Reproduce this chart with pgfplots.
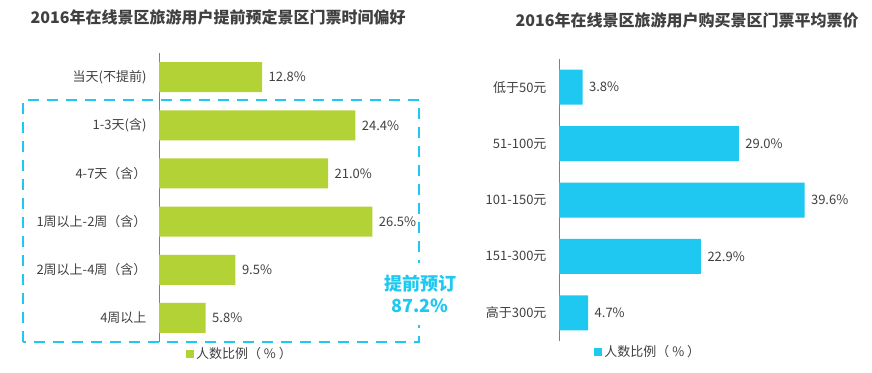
\documentclass[border=0pt]{standalone}
\usepackage{fontspec}
\setmainfont{Noto Sans CJK SC}
\usepackage{pgfplots}
\pgfplotsset{compat=1.18}
\definecolor{barg}{RGB}{178,210,53}
\definecolor{barc}{RGB}{31,200,240}
\definecolor{txt}{RGB}{64,64,64}
\definecolor{axgray}{RGB}{128,128,128}
\pgfplotsset{mybar/.style={
  xbar, scale only axis, clip=false,
  axis x line=none, axis y line*=left,
  y axis line style={-, draw=axgray, line width=0.9pt},
  xmin=0, y dir=reverse, enlarge y limits=false,
  major tick length=0pt, tick style={draw=none},
  yticklabel style={font=\fontsize{13}{15}\selectfont, text=txt, xshift=-9pt},
  nodes near coords={\pgfmathprintnumber[fixed,fixed zerofill,precision=1]{\pgfplotspointmeta}\%},
  nodes near coords style={font=\fontsize{13}{15}\selectfont, text=txt, xshift=3pt},
  /pgf/number format/assume math mode=true,
  legend style={draw=none, fill=none, font=\fontsize{13}{15}\selectfont, text=txt, inner sep=0pt},
  legend image code/.code={\fill[##1, draw=none] (0pt,-4pt) rectangle (8pt,4pt);},
}}
\begin{document}
\begin{tikzpicture}
\path[use as bounding box] (0pt,0pt) rectangle (872pt,372pt);
% titles
\node[anchor=west, font=\bfseries\fontsize{16}{18}\selectfont, text=txt] at (27pt,355pt) {2016年在线景区旅游用户提前预定景区门票时间偏好};
\node[anchor=west, font=\bfseries\fontsize{16}{18}\selectfont, text=txt] at (512pt,352pt) {2016年在线景区旅游用户购买景区门票平均票价};
% left chart
\begin{axis}[mybar, at={(159pt,30pt)}, anchor=south west, width=241.5pt, height=289pt,
  xmax=30, ymin=-0.5, ymax=5.5, bar width=30pt,
  ytick={0,1,2,3,4,5},
  yticklabels={当天(不提前),1-3天(含),4-7天（含）,1周以上-2周（含）,2周以上-4周（含）,4周以上},
  legend style={at={(0.335,0)}, anchor=center, yshift=-12pt}]
\addplot[fill=barg, draw=none] coordinates {(12.8,0) (24.4,1) (21.0,2) (26.5,3) (9.5,4) (5.8,5)};
\addlegendentry{人数比例（ \% ）}
\end{axis}
% dashed box
\draw[barc, line width=2.6pt, dash pattern=on 11pt off 8pt] (23pt,30pt) rectangle (419pt,272pt);
\node[fill=white, inner sep=0pt, minimum height=61pt, minimum width=78pt, align=center, text=barc, font=\bfseries\fontsize{18}{22}\selectfont] at (420pt,78pt) {提前预订\\87.2\%};
% right chart
\begin{axis}[mybar, at={(559pt,31pt)}, anchor=south west, width=279pt, height=282pt,
  xmax=45, ymin=-0.5, ymax=4.5, bar width=35pt,
  ytick={0,1,2,3,4},
  yticklabels={低于50元,51-100元,101-150元,151-300元,高于300元},
  legend style={at={(0.32,0)}, anchor=center, yshift=-11pt}]
\addplot[fill=barc, draw=none] coordinates {(3.8,0) (29.0,1) (39.6,2) (22.9,3) (4.7,4)};
\addlegendentry{人数比例（ \% ）}
\end{axis}
\end{tikzpicture}
\end{document}
